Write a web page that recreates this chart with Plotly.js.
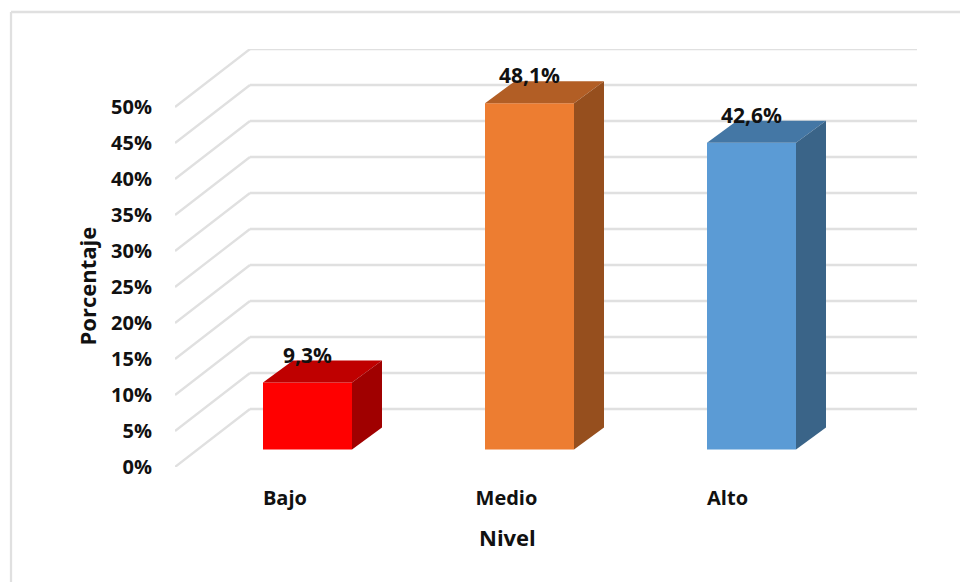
<!DOCTYPE html>
<html><head><meta charset="utf-8">
<script src="https://cdn.plot.ly/plotly-3.0.1.min.js"></script>
<style>html,body{margin:0;padding:0;background:#fff}#c{width:960px;height:582px}</style>
</head><body><div id="c"></div>
<script>
const categories = ["Bajo", "Medio", "Alto"];
const values = [9.3, 48.1, 42.6];
const valueLabels = ["9,3%", "48,1%", "42,6%"];
const tickValues = [0,5,10,15,20,25,30,35,40,45,50];
const categoryTicks = [-0.005, 0.993, 1.989];
const frontColors = ["#FF0000", "#ED7D31", "#5B9BD5"];
const topColors = ["#BF0000", "#B25E25", "#4477A5"];
const sideColors = ["#A00000", "#964F1E", "#3A6488"];

// plot geometry (pixels)
const W = 960, H = 582, L = 175, R = 917, B = 467, T = 49;
const pxPerCat = 222, pxPerPct = 7.2;
const dx = p => p / pxPerCat, dy = p => p / pxPerPct;
const xMin = -0.5, xMax = xMin + (R - L) / pxPerCat, yMax = (B - T) / pxPerPct;
const wallX = dx(75), wallY = dy(58);
const barX = dx(21.5), barY = dy(17.5), barW = dx(89), depthX = dx(30), depthY = dy(22);

const grid = {color: "#E0E0E0", width: 2.3};
const shapes = [];
tickValues.forEach(v => {
  shapes.push({type: "line", layer: "below", xref: "x", yref: "y", x0: xMin, y0: v, x1: xMin + wallX, y1: v + wallY, line: grid});
  shapes.push({type: "line", layer: "below", xref: "x", yref: "y", x0: xMin + wallX, y0: v + wallY, x1: xMax, y1: v + wallY, line: grid});
});
const px = p => (p - L) / (R - L), py = p => (B - p) / (B - T);
shapes.push({type: "line", xref: "paper", yref: "paper", x0: px(11), x1: px(11), y0: py(12), y1: py(582), line: grid});
shapes.push({type: "line", xref: "paper", yref: "paper", x0: px(11), x1: px(960), y0: py(12), y1: py(12), line: grid});

const traces = [{
  type: "bar",
  x: categories.map((c, i) => i + barX),
  y: values,
  base: values.map(() => barY),
  width: barW,
  marker: {color: frontColors, line: {width: 0}},
  hoverinfo: "skip"
}];
categories.forEach((c, i) => {
  const x0 = i + barX - barW / 2, x1 = i + barX + barW / 2;
  const y0 = barY, y1 = barY + values[i];
  traces.push({type: "scatter", mode: "none", fill: "toself", fillcolor: topColors[i], hoverinfo: "skip",
    x: [x0, x1, x1 + depthX, x0 + depthX, x0],
    y: [y1, y1, y1 + depthY, y1 + depthY, y1]});
  traces.push({type: "scatter", mode: "none", fill: "toself", fillcolor: sideColors[i], hoverinfo: "skip",
    x: [x1, x1 + depthX, x1 + depthX, x1, x1],
    y: [y0, y0 + depthY, y1 + depthY, y1, y0]});
});
traces.push({
  type: "scatter", mode: "text", hoverinfo: "skip",
  x: categories.map((c, i) => i + barX),
  y: values.map(v => v + barY + dy(25)),
  text: valueLabels, textposition: "middle center",
  textfont: {family: "Open Sans", size: 21, color: "#111111", weight: 700}
});

const labelFont = {family: "Open Sans", size: 20, color: "#111111", weight: 700};
const titleFont = {family: "Open Sans", size: 22, color: "#111111", weight: 700};
Plotly.newPlot("c", traces, {
  width: W, height: H, showlegend: false, paper_bgcolor: "#fff", plot_bgcolor: "rgba(0,0,0,0)",
  margin: {l: L, r: W - R, t: T, b: H - B},
  xaxis: {range: [xMin, xMax], tickmode: "array", tickvals: categoryTicks, ticktext: categories,
    showgrid: false, zeroline: false, showline: false, ticks: "", ticklabelstandoff: 17, tickfont: labelFont},
  yaxis: {range: [0, yMax], tickmode: "array", tickvals: tickValues, ticktext: tickValues.map(v => v + "%"),
    showgrid: false, zeroline: false, showline: false, ticks: "", ticklabelstandoff: 22, tickfont: labelFont},
  shapes: shapes,
  annotations: [
    {text: "Nivel", xref: "paper", yref: "paper", x: px(507), y: py(537), showarrow: false, xanchor: "center", yanchor: "middle", font: titleFont},
    {text: "Porcentaje", xref: "paper", yref: "paper", x: px(86), y: py(286.5), textangle: -90, showarrow: false, xanchor: "center", yanchor: "middle", font: titleFont}
  ]
}, {displayModeBar: false, staticPlot: true});
</script></body></html>
